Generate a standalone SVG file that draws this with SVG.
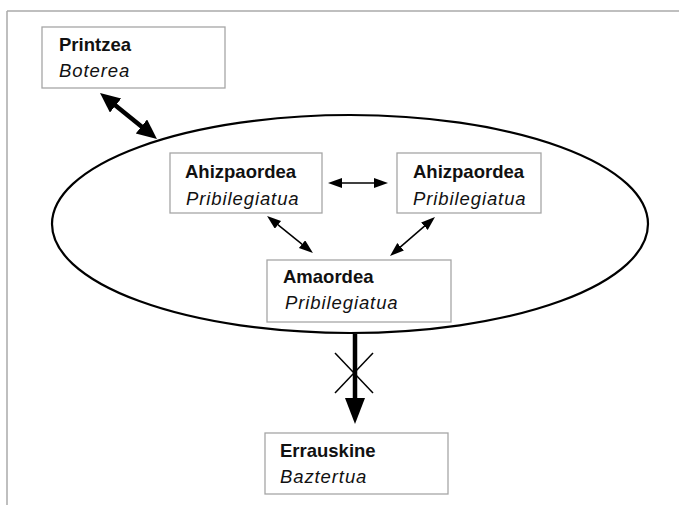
<svg xmlns="http://www.w3.org/2000/svg" width="679" height="505" viewBox="0 0 679 505">
<style>
.box{fill:#fff;stroke:#a6a6a6;stroke-width:1.3}
.t{font-family:"Liberation Sans",Arial,sans-serif;font-size:18.5px;fill:#111}
.b{font-weight:bold}
.i{font-style:italic;letter-spacing:0.9px}
.thick{stroke:#000;stroke-width:4.5;fill:none}
.thin{stroke:#000;stroke-width:1.5;fill:none}
</style>
<defs>
<marker id="big" markerUnits="userSpaceOnUse" markerWidth="22" markerHeight="20" refX="10" refY="9" orient="auto-start-reverse"><path d="M0,0 L20,9 L0,18 z" fill="#000"/></marker>
<marker id="small" markerUnits="userSpaceOnUse" markerWidth="16" markerHeight="12" refX="7" refY="5" orient="auto-start-reverse"><path d="M0,0 L14,5 L0,10 z" fill="#000"/></marker>
<marker id="down" markerUnits="userSpaceOnUse" markerWidth="28" markerHeight="22" refX="13" refY="10" orient="auto"><path d="M0,0 L26,10 L0,20 z" fill="#000"/></marker>
</defs>
<g id="frame" stroke="#aaa" stroke-width="1.5" fill="none">
<line x1="7" y1="11" x2="679" y2="11"/>
<line x1="7" y1="11" x2="7" y2="505"/>
</g>
<g id="family">
<ellipse cx="350" cy="224" rx="298" ry="109" fill="none" stroke="#000" stroke-width="2.2"/>
</g>
<g id="connectors">
<line class="thick" x1="107.8" y1="99.3" x2="149.2" y2="132.7" marker-start="url(#big)" marker-end="url(#big)"/>
<line class="thin" x1="335" y1="183" x2="381" y2="183" marker-start="url(#small)" marker-end="url(#small)"/>
<line class="thin" x1="272.5" y1="220.4" x2="307.5" y2="248.6" marker-start="url(#small)" marker-end="url(#small)"/>
<line class="thin" x1="429.7" y1="221.6" x2="395.3" y2="251.4" marker-start="url(#small)" marker-end="url(#small)"/>
<line class="thick" x1="355" y1="334" x2="355" y2="411" marker-end="url(#down)"/>
<line class="thin" x1="335" y1="353" x2="373" y2="393"/>
<line class="thin" x1="373" y1="353" x2="335" y2="393"/>
</g>
<g id="printzea">
<rect class="box" x="42" y="27" width="183" height="61"/>
<text class="t b" x="59" y="51">Printzea</text>
<text class="t i" x="59" y="77">Boterea</text>
</g>
<g id="ahizpaordea1">
<rect class="box" x="170" y="153" width="152" height="60"/>
<text class="t b" x="185" y="178">Ahizpaordea</text>
<text class="t i" x="186" y="205">Pribilegiatua</text>
</g>
<g id="ahizpaordea2">
<rect class="box" x="397" y="153" width="144" height="60"/>
<text class="t b" x="413" y="178">Ahizpaordea</text>
<text class="t i" x="413" y="205">Pribilegiatua</text>
</g>
<g id="amaordea">
<rect class="box" x="267" y="260" width="184" height="62"/>
<text class="t b" x="283" y="283">Amaordea</text>
<text class="t i" x="285" y="309">Pribilegiatua</text>
</g>
<g id="errauskine">
<rect class="box" x="265" y="433" width="183" height="61"/>
<text class="t b" x="280" y="457">Errauskine</text>
<text class="t i" x="280" y="483">Baztertua</text>
</g>
</svg>
